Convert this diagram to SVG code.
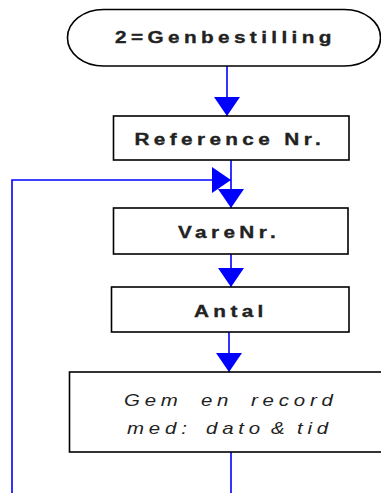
<svg xmlns="http://www.w3.org/2000/svg" width="381" height="493" viewBox="0 0 381 493">
  <style>
    .box { fill: #ffffff; stroke: #000000; stroke-width: 1.6; }
    .lbl { font-family: "Liberation Sans", Arial, sans-serif; font-size: 17px; font-weight: bold; fill: #222222; stroke: #222222; stroke-width: 0.35; letter-spacing: 3.6px; }
    .it { font-family: "Liberation Sans", Arial, sans-serif; font-size: 16.6px; font-style: italic; fill: #222222; letter-spacing: 3.9px; }
    .con { fill: none; stroke: #0000ff; stroke-width: 1.6; }
  </style>
  <defs>
    <marker id="ah" markerUnits="userSpaceOnUse" markerWidth="20" markerHeight="26" viewBox="0 0 20 26" refX="19" refY="13" orient="auto">
      <path d="M0,0 L19,13 L0,26 Z" fill="#0000ff"/>
    </marker>
  </defs>
  <rect width="381" height="493" fill="#ffffff"/>

  <g id="connectors">
    <path class="con" d="M227,66 V116" marker-end="url(#ah)"/>
    <path class="con" d="M231,160 V208" marker-end="url(#ah)"/>
    <path class="con" d="M12,493 V180 H231" marker-end="url(#ah)"/>
    <path class="con" d="M231,254 V287" marker-end="url(#ah)"/>
    <path class="con" d="M229,332 V372" marker-end="url(#ah)"/>
    <path class="con" d="M231,452 V493"/>
  </g>

  <g id="start">
    <rect class="box" x="67.5" y="9.5" width="313" height="56.5" rx="36" ry="28"/>
    <text class="lbl" transform="scale(1.22,1)" x="94.3" y="43.5">2=Genbestilling</text>
  </g>

  <g id="reference">
    <rect class="box" x="113.5" y="116" width="235.5" height="44"/>
    <text class="lbl" transform="scale(1.22,1)" x="110.2" y="145.5">Reference Nr.</text>
  </g>

  <g id="varenr">
    <rect class="box" x="113.5" y="208" width="234.5" height="46"/>
    <text class="lbl" transform="scale(1.22,1)" x="145.9" y="238.5">VareNr.</text>
  </g>

  <g id="antal">
    <rect class="box" x="111.5" y="287" width="237.5" height="45"/>
    <text class="lbl" transform="scale(1.22,1)" x="159" y="317">Antal</text>
  </g>

  <g id="gem">
    <rect class="box" x="69.5" y="372" width="313" height="80"/>
    <text class="it" transform="scale(1.23,1)" y="406"><tspan x="100.8">Gem</tspan><tspan x="163.4">en</tspan><tspan x="204.1">record</tspan></text>
    <text class="it" transform="scale(1.23,1)" y="434"><tspan x="103.3">med:</tspan><tspan x="167.5">dato</tspan><tspan x="220.3">&amp;</tspan><tspan x="241.5">tid</tspan></text>
  </g>
</svg>
